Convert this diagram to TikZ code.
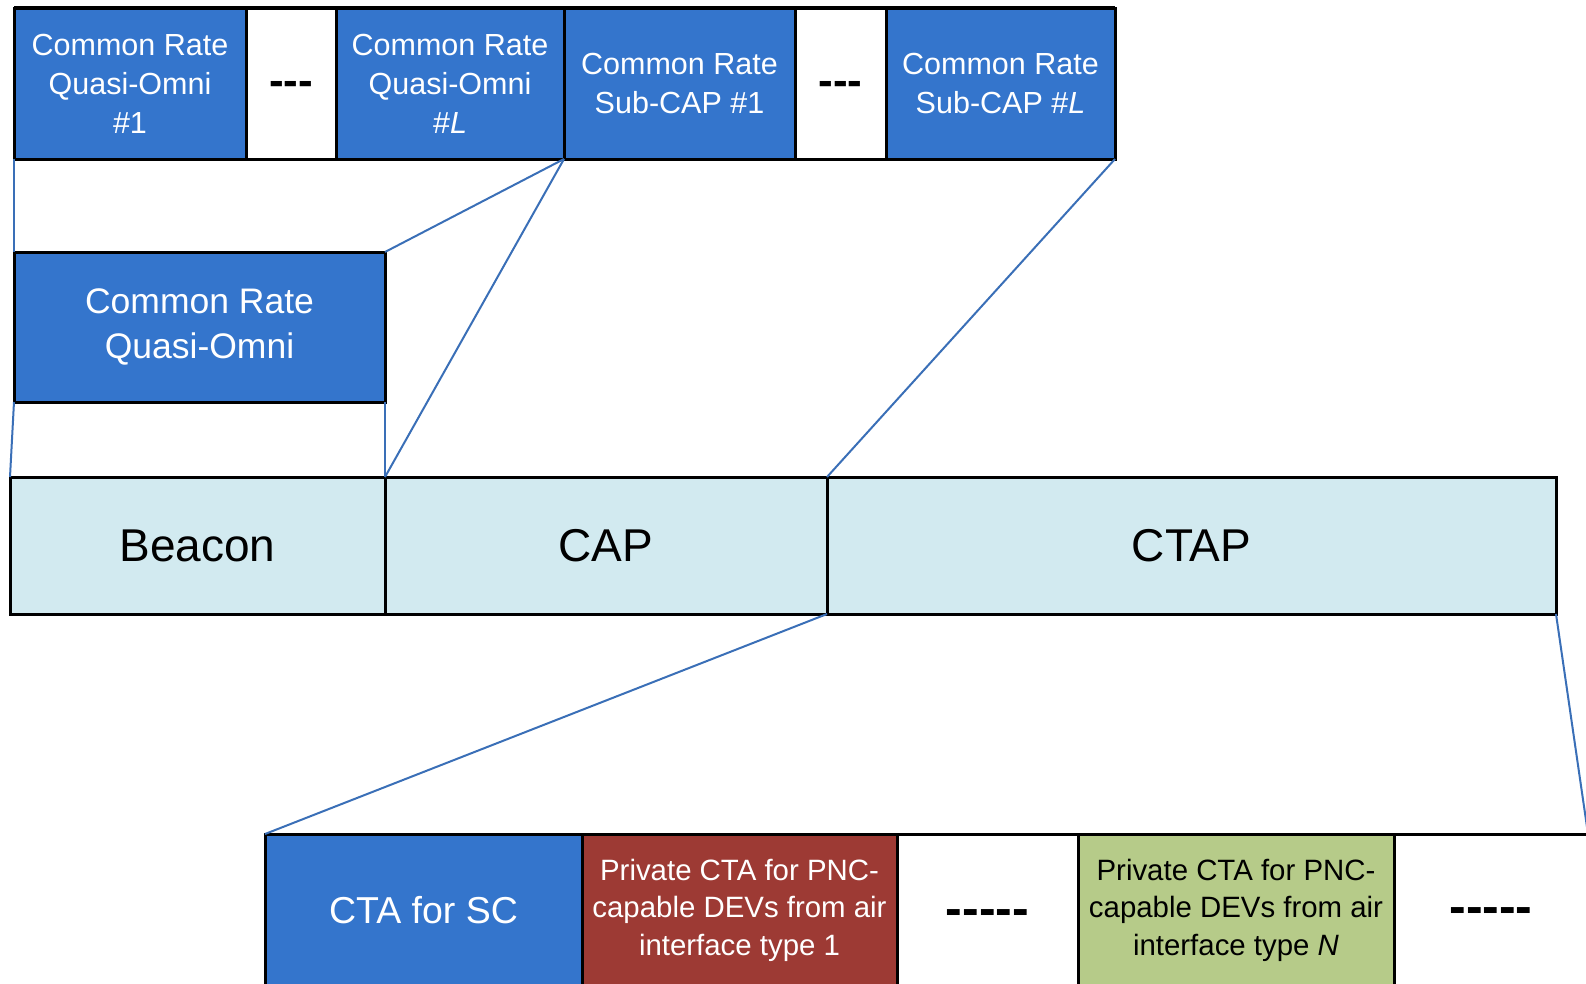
\documentclass[tikz,border=0pt]{standalone}
\usepackage{fontspec}
\setmainfont{Liberation Sans}
\definecolor{boxblue}{RGB}{52,117,204}
\definecolor{palecyan}{RGB}{210,234,240}
\definecolor{boxred}{RGB}{157,58,52}
\definecolor{boxgreen}{RGB}{182,203,137}
\definecolor{linkblue}{RGB}{58,111,183}
\newcommand{\lowered}[2]{\raisebox{-#1}[\height][\depth]{#2}}
\begin{document}
\begin{tikzpicture}[x=1pt,y=-1pt,
  cell/.style={draw=black, line width=3pt, inner sep=0pt, outer sep=0pt, align=center, anchor=north west},
  bluecell/.style={cell, fill=boxblue, text=white},
  whitecell/.style={cell, fill=white, text=black},
  cyancell/.style={cell, fill=palecyan, text=black, font=\fontsize{46}{50}\selectfont},
  toptext/.style={font=\fontsize{30.5}{39}\selectfont},
  dots/.style={font=\fontsize{44}{44}\selectfont\bfseries},
  link/.style={draw=linkblue, line width=2pt}]
\useasboundingbox (0,0) rectangle (1586,983);
\clip (0,0) rectangle (1586,983);

% top row
\node[bluecell, toptext, minimum width=232, minimum height=151] (t1) at (14,8) {Common Rate\\Quasi-Omni\\\#1};
\node[whitecell, dots, minimum width=90, minimum height=151] (t2) at (246,8) {\lowered{5pt}{-{}-{}-}};
\node[bluecell, toptext, minimum width=228, minimum height=151] (t3) at (336,8) {Common Rate\\Quasi-Omni\\\#\textit{L}};
\node[bluecell, toptext, minimum width=231, minimum height=151] (t4) at (564,8) {Common Rate\\Sub-CAP \#1};
\node[whitecell, dots, minimum width=91, minimum height=151] (t5) at (795,8) {\lowered{5pt}{-{}-{}-}};
\node[bluecell, toptext, minimum width=229, minimum height=151] (t6) at (886,8) {Common Rate\\Sub-CAP \#\textit{L}};
\draw[line width=4pt] (t1.north west) -- (t6.north east);

% quasi-omni box
\node[bluecell, font=\fontsize{35.5}{45}\selectfont, minimum width=371, minimum height=150] (q) at (14,252) {Common Rate\\Quasi-Omni};

% middle row
\node[cyancell, minimum width=375, minimum height=137] (m1) at (10,477) {Beacon};
\node[cyancell, minimum width=442, minimum height=137] (m2) at (385,477) {CAP};
\node[cyancell, minimum width=729, minimum height=137] (m3) at (827,477) {CTAP};

% bottom row
\node[bluecell, font=\fontsize{37.5}{40}\selectfont, minimum width=317, minimum height=152] (b1) at (265,834) {CTA for SC};
\node[cell, fill=boxred, text=white, font=\fontsize{29.4}{37.4}\selectfont, minimum width=315, minimum height=152] (b2) at (582,834) {Private CTA for PNC-\\capable DEVs from air\\interface type 1};
\node[whitecell, font=\fontsize{50}{50}\selectfont\bfseries, minimum width=181, minimum height=152] (b3) at (897,834) {\lowered{8pt}{-{}-{}-{}-{}-}};
\node[cell, fill=boxgreen, text=black, font=\fontsize{29.4}{37.4}\selectfont, minimum width=316, minimum height=152] (b4) at (1078,834) {Private CTA for PNC-\\capable DEVs from air\\interface type \textit{N}};
\node[whitecell, font=\fontsize{50}{50}\selectfont\bfseries, minimum width=194, minimum height=152] (b5) at (1394,834) {\lowered{6pt}{-{}-{}-{}-{}-}};

% connectors
\draw[link] (t1.south west) -- (q.north west);
\draw[link] (t3.south east) -- (q.north east);
\draw[link] (t3.south east) -- (m2.north west);
\draw[link] (t6.south east) -- (m3.north west);
\draw[link] (q.south west) -- (m1.north west);
\draw[link] (q.south east) -- (m2.north west);
\draw[link] (m3.south west) -- (b1.north west);
\draw[link] (m3.south east) -- (b5.north east);
\end{tikzpicture}
\end{document}
